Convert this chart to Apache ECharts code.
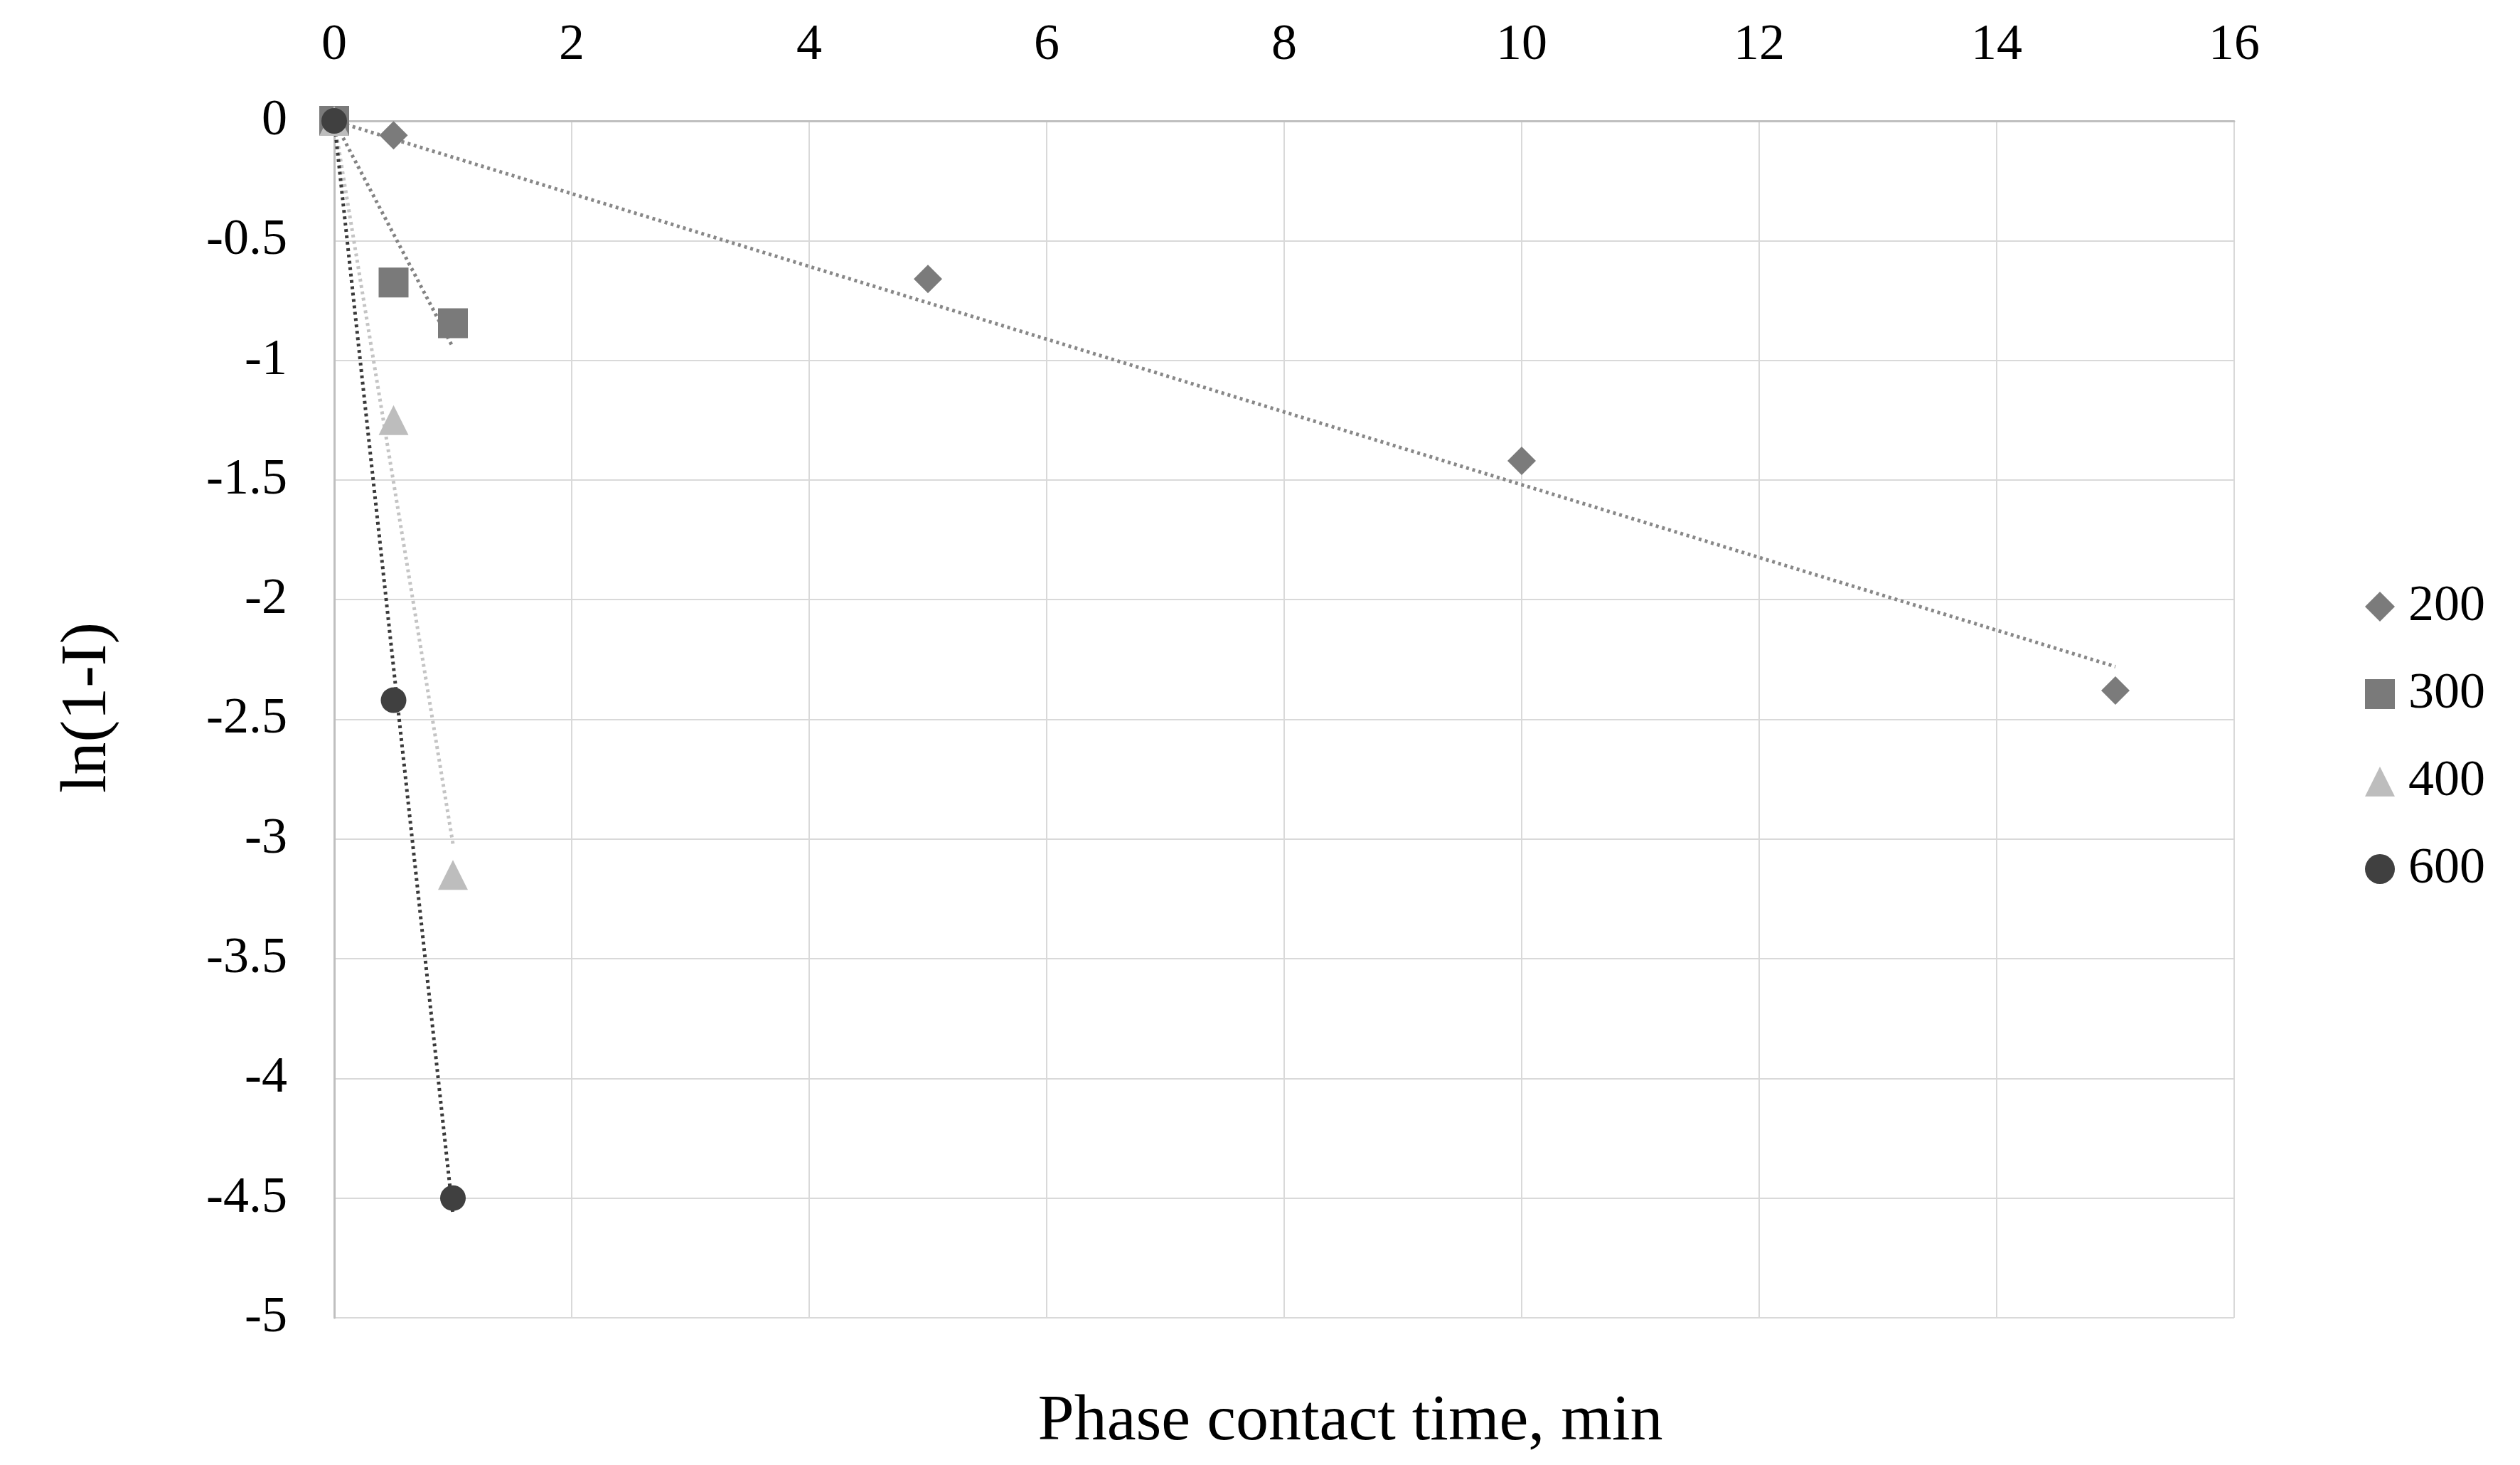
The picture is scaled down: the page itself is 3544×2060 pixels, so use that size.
<!DOCTYPE html>
<html>
<head>
<meta charset="utf-8">
<script src="https://cdn.jsdelivr.net/npm/echarts@6/dist/echarts.min.js"></script>
<style>html,body{margin:0;padding:0;background:#fff;}#c{width:3544px;height:2060px;}</style>
</head>
<body>
<div id="c"></div>
<script>
// Data
var seriesNames = ['200', '300', '400', '600'];
var time200 = [0, 0.5, 5, 10, 15];
var ln200 = [0, -0.06, -0.66, -1.42, -2.38];
var time300 = [0, 0.5, 1];
var ln300 = [0, -0.675, -0.845];
var time400 = [0, 0.5, 1];
var ln400 = [0, -1.25, -3.15];
var time600 = [0, 0.5, 1];
var ln600 = [0, -2.42, -4.5];
var xTicks = [0, 2, 4, 6, 8, 10, 12, 14, 16];
var yTicks = [0, -0.5, -1, -1.5, -2, -2.5, -3, -3.5, -4, -4.5, -5];

var FONT = 'Liberation Serif';
var symbols = ['diamond', 'rect', 'triangle', 'circle'];
var sizes = [40, 42, 42, 36];
var colors = ['#7b7b7b', '#7a7a7a', '#bdbdbd', '#404040'];
var lineColors = ['#888888', '#838383', '#c4c4c4', '#3a3a3a'];
var xs = [time200, time300, time400, time600];
var ys = [ln200, ln300, ln400, ln600];

function pairs(x, y) { return x.map(function (v, i) { return [v, y[i]]; }); }
// linear trendline forced through origin (Excel "set intercept = 0")
function trend(x, y) {
  var sxy = 0, sxx = 0;
  for (var i = 0; i < x.length; i++) { sxy += x[i] * y[i]; sxx += x[i] * x[i]; }
  var k = sxy / sxx, xmax = Math.max.apply(null, x);
  return [[0, 0], [xmax, k * xmax]];
}

var series = [];
seriesNames.forEach(function (n, i) {
  series.push({
    name: n + ' trend', type: 'line', data: trend(xs[i], ys[i]),
    symbol: 'none', silent: true, z: 1,
    lineStyle: { color: lineColors[i], width: 5, type: [4, 5] }
  });
});
seriesNames.forEach(function (n, i) {
  series.push({
    name: n, type: 'scatter', data: pairs(xs[i], ys[i]),
    symbol: symbols[i], symbolSize: sizes[i], z: 3,
    itemStyle: { color: colors[i], opacity: 1 }
  });
});

var chart = echarts.init(document.getElementById('c'));
chart.setOption({
  animation: false,
  backgroundColor: '#ffffff',
  textStyle: { fontFamily: FONT },
  grid: { left: 470, right: 402, top: 170, bottom: 207, containLabel: false },
  xAxis: {
    type: 'value', position: 'top', min: xTicks[0], max: xTicks[xTicks.length - 1], interval: 2,
    axisLine: { show: true, onZero: false, lineStyle: { color: '#bfbfbf', width: 3 } },
    axisTick: { show: false },
    splitLine: { show: true, lineStyle: { color: '#d9d9d9', width: 2 } },
    axisLabel: { fontFamily: FONT, fontSize: 72, color: '#000', margin: 70 }
  },
  yAxis: {
    type: 'value', min: yTicks[yTicks.length - 1], max: yTicks[0], interval: 0.5,
    axisLine: { show: true, onZero: false, lineStyle: { color: '#bfbfbf', width: 3 } },
    axisTick: { show: false },
    splitLine: { show: true, lineStyle: { color: '#d9d9d9', width: 2 } },
    axisLabel: { fontFamily: FONT, fontSize: 72, color: '#000', margin: 66 }
  },
  legend: {
    orient: 'vertical', left: 3321, top: 812,
    data: seriesNames,
    itemWidth: 42, itemHeight: 42, itemGap: 51,
    textStyle: { fontFamily: FONT, fontSize: 72, color: '#000', lineHeight: 72, padding: [0, 0, 0, 14] }
  },
  graphic: [
    { type: 'text', x: 1899, y: 2000, style: { text: 'Phase contact time, min', font: '92px "Liberation Serif"', fill: '#000', textAlign: 'center', textVerticalAlign: 'middle' } },
    { type: 'text', x: 124, y: 995, rotation: Math.PI / 2, style: { text: 'ln(1-I)', font: '92px "Liberation Serif"', fill: '#000', textAlign: 'center', textVerticalAlign: 'middle' } }
  ],
  series: series
});
</script>
</body>
</html>
